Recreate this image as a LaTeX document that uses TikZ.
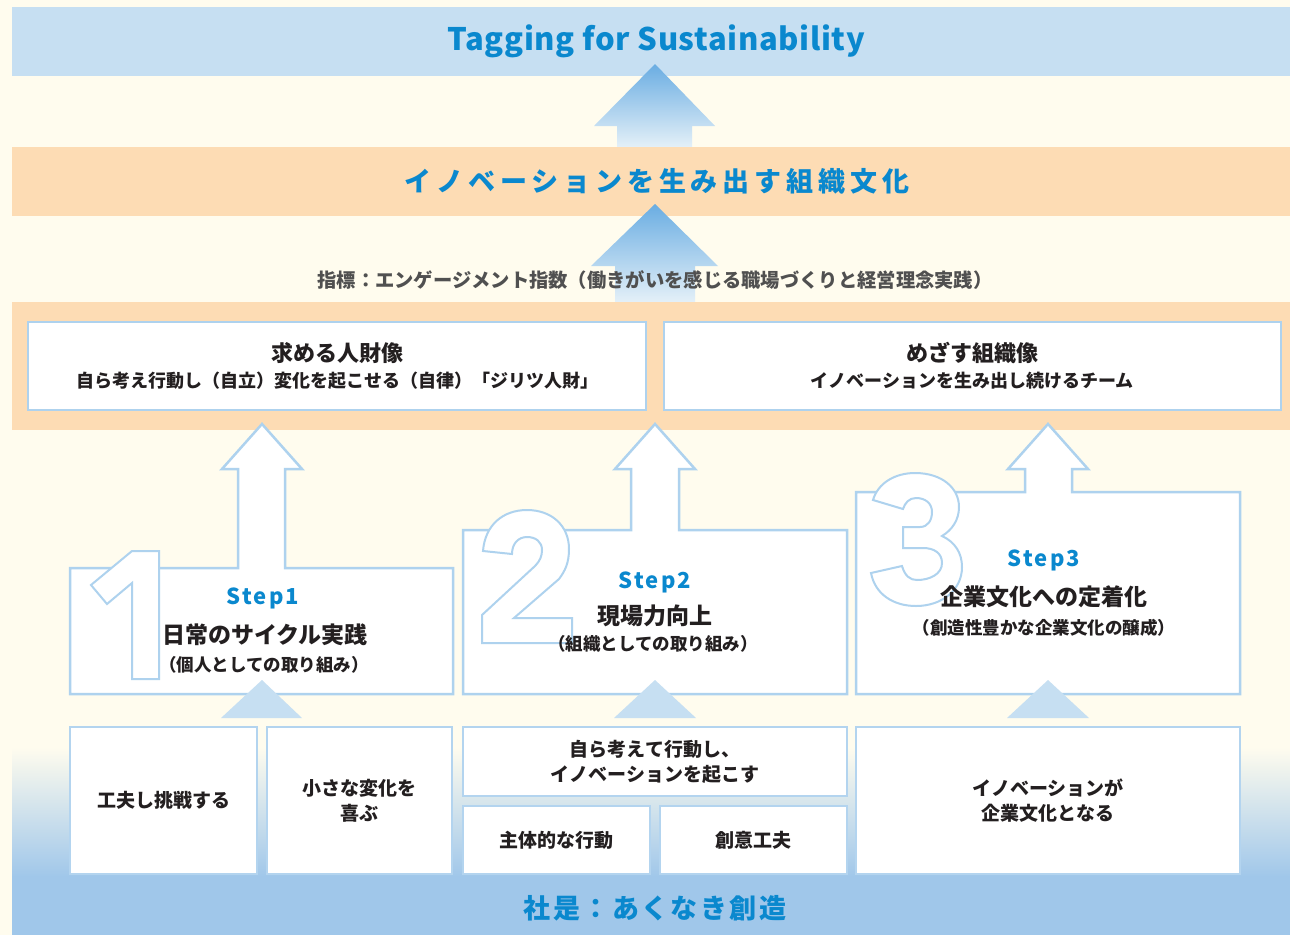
\documentclass[tikz,border=0pt]{standalone}
\usepackage{fontspec}
\setmainfont{Noto Sans CJK JP}
\newfontfamily\titlefam{Noto Sans CJK JP}[LetterSpace=2]
\newfontfamily\midfam{Noto Sans CJK JP}[LetterSpace=18]
\newfontfamily\botfam{Noto Sans CJK JP}[LetterSpace=9]
\newfontfamily\stepfam{Noto Sans CJK JP}[LetterSpace=10]
\definecolor{cream}{HTML}{FFFCEE}
\definecolor{lblue}{HTML}{C6DFF2}
\definecolor{orng}{HTML}{FDDCB4}
\definecolor{tblue}{HTML}{0A88CE}
\definecolor{bord}{HTML}{AED2EE}
\definecolor{bbord}{HTML}{B3D4EF}
\definecolor{bblue}{HTML}{A0C7EA}
\definecolor{dark}{HTML}{231F20}
\definecolor{gry}{HTML}{505050}
\definecolor{arrtop}{HTML}{6AADE2}
\definecolor{arrbot}{HTML}{E4F0F8}
\tikzset{
  wbox/.style={draw=bord, fill=white, line width=2pt, inner sep=0pt},
  bbox/.style={draw=bbord, fill=white, line width=2.5pt, inner sep=0pt, align=center, text=dark,
    font=\fontsize{19}{25}\selectfont\bfseries},
  stepshape/.style={draw=bord, fill=white, line width=2.5pt, line join=miter},
  digit/.style={draw=bord, fill=white, line width=2pt, line join=miter},
  tri/.style={fill=lblue},
  bigarrow/.style={top color=arrtop, bottom color=arrbot},
  steplbl/.style={text=tblue, font=\stepfam\fontsize{22}{22}\selectfont\bfseries, inner sep=0pt},
  stepmain/.style={text=dark, font=\fontsize{23}{23}\selectfont\bfseries, inner sep=0pt},
  stepsub/.style={text=dark, font=\fontsize{17.5}{17.5}\selectfont\bfseries, inner sep=0pt},
  ohead/.style={text=dark, font=\fontsize{22}{22}\selectfont\bfseries, inner sep=0pt},
  osub/.style={text=dark, font=\fontsize{18}{18}\selectfont\bfseries, inner sep=0pt}
}
\begin{document}
\begin{tikzpicture}[x=1pt,y=-1pt]
\useasboundingbox (0,0) rectangle (1290,935);
\fill[cream] (0,0) rectangle (1290,935);
% bottom gradient
\shade[top color=cream, bottom color=bblue] (12,747) rectangle (1290,877);
\fill[bblue] (12,876) rectangle (1290,935);
% top banner
\fill[lblue] (12,7) rectangle (1290,76);
\node[text=tblue, font=\titlefam\fontsize{31}{31}\selectfont\bfseries, inner sep=0pt] (title) at (656,41) {Tagging for Sustainability};
% arrow 1
\shade[bigarrow] (655,64) -- (715,126) -- (692,126) -- (692,147) -- (617,147) -- (617,126) -- (594,126) -- cycle;
% orange band 1
\fill[orng] (12,147) rectangle (1290,216);
\node[text=tblue, font=\midfam\fontsize{27}{27}\selectfont\bfseries, inner sep=0pt] (culture) at (657,181) {イノベーションを生み出す組織文化};
% arrow 2
\shade[bigarrow] (655,204) -- (718,266) -- (695,266) -- (695,302) -- (615,302) -- (615,266) -- (591,266) -- cycle;
\node[text=gry, font=\fontsize{19.3}{19.3}\selectfont\bfseries, inner sep=0pt] (index) at (655,280) {指標：エンゲージメント指数（働きがいを感じる職場づくりと経営理念実践）};
% orange band 2
\fill[orng] (12,302) rectangle (1290,430);
\node[wbox, minimum width=618, minimum height=88] (ob1) at (337,366) {};
\node[wbox, minimum width=617, minimum height=88] (ob2) at (972.5,366) {};
\node[ohead] (ob1h) at (337,353) {求める人財像};
\node[osub] (ob1s) at (337,381) {自ら考え行動し（自立）変化を起こせる（自律）「ジリツ人財」};
\node[ohead] (ob2h) at (972,353) {めざす組織像};
\node[osub] (ob2s) at (972,381) {イノベーションを生み出し続けるチーム};
% step shapes
\draw[stepshape] (70,568) -- (238,568) -- (238,469) -- (222,469) -- (262,424) -- (302,469) -- (285,469) -- (285,568) -- (453,568) -- (453,694) -- (70,694) -- cycle;
\draw[stepshape] (463,530) -- (631,530) -- (631,469) -- (615,469) -- (655,424) -- (695,469) -- (679,469) -- (679,530) -- (847,530) -- (847,694) -- (463,694) -- cycle;
\draw[stepshape] (856,492) -- (1025,492) -- (1025,469) -- (1008,469) -- (1048,424) -- (1088,469) -- (1072,469) -- (1072,492) -- (1240,492) -- (1240,694) -- (856,694) -- cycle;
% digits
\draw[digit] (132,551) -- (91,585) -- (107,604) -- (132,583) -- (132,679) -- (159,679) -- (159,551) -- cycle;
\draw[digit] (483,551) .. controls (485,525) and (503,510) .. (527,510)
  .. controls (552,510) and (569,526) .. (569,549)
  .. controls (569,563) and (565,571) .. (559,579)
  -- (514,618) -- (572,618) -- (572,643) -- (482,643) -- (482,615)
  -- (535,566) .. controls (540,561) and (542,556) .. (542,550)
  .. controls (542,542) and (536,537) .. (527,537)
  .. controls (518,537) and (512,544) .. (512,554) -- cycle;
\draw[digit] (873,500) .. controls (878,483) and (895,473) .. (915,473)
  .. controls (942,473) and (959,488) .. (959,507)
  .. controls (959,520) and (952,530) .. (942,536)
  .. controls (955,542) and (962,553) .. (962,567)
  .. controls (962,590) and (942,606) .. (916,606)
  .. controls (893,606) and (875,594) .. (871,573)
  -- (902,566)
  .. controls (905,576) and (910,580) .. (917,580)
  .. controls (930,580) and (942,574) .. (942,563)
  .. controls (942,553) and (934,548) .. (923,548)
  -- (903,548) -- (903,527) -- (920,527)
  .. controls (928,527) and (932,520) .. (932,512)
  .. controls (932,503) and (925,498) .. (916,498)
  .. controls (909,498) and (905,503) .. (903,509) -- cycle;
% step texts
\node[steplbl] (s1l) at (263,598) {Step1};
\node[stepmain] (s1m) at (265,635) {日常のサイクル実践};
\node[stepsub] (s1s) at (264,665) {（個人としての取り組み）};
\node[steplbl] (s2l) at (655,582) {Step2};
\node[stepmain] (s2m) at (655,616) {現場力向上};
\node[stepsub] (s2s) at (653,644) {（組織としての取り組み）};
\node[steplbl] (s3l) at (1044,560) {Step3};
\node[stepmain] (s3m) at (1044,597) {企業文化への定着化};
\node[stepsub] (s3s) at (1044,628) {（創造性豊かな企業文化の醸成）};
% triangles
\fill[tri] (262,680) -- (302,718) -- (221,718) -- cycle;
\fill[tri] (655,680) -- (696,718) -- (614,718) -- cycle;
\fill[tri] (1048,680) -- (1089,718) -- (1007,718) -- cycle;
% bottom boxes
\node[bbox, minimum width=187, minimum height=147] (b1) at (163.5,800.5) {工夫し挑戦する};
\node[bbox, minimum width=185, minimum height=147] (b2) at (359.5,800.5) {小さな変化を\\喜ぶ};
\node[bbox, minimum width=384, minimum height=69] (b3) at (655,761.5) {自ら考えて行動し、\\イノベーションを起こす};
\node[bbox, minimum width=187, minimum height=68] (b4) at (556.5,840) {主体的な行動};
\node[bbox, minimum width=187, minimum height=68] (b5) at (753.5,840) {創意工夫};
\node[bbox, minimum width=384, minimum height=147] (b6) at (1048,800.5) {イノベーションが\\企業文化となる};
% motto
\node[text=tblue, font=\botfam\fontsize{27}{27}\selectfont\bfseries, inner sep=0pt] (motto) at (655,908) {社是：あくなき創造};
\end{tikzpicture}
\end{document}
